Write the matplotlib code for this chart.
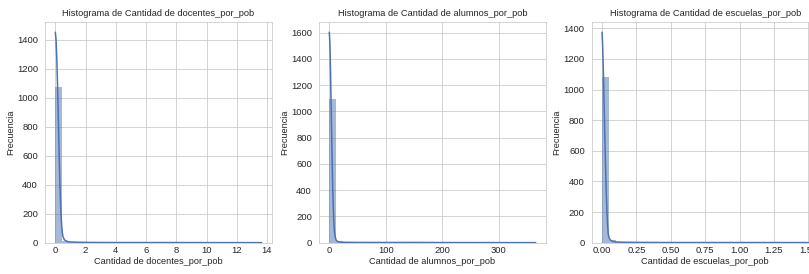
import matplotlib
matplotlib.use("Agg")
import numpy as np
import matplotlib.pyplot as plt
from matplotlib.ticker import MultipleLocator
import seaborn as sns

# histogram counts (30 bins each)
docentes_max = 13.65
docentes_counts = [1073, 14, 4, 2, 1, 1, 0, 0, 1, 0, 0, 1, 0, 0, 1,
                   0, 0, 0, 0, 1, 0, 0, 0, 0, 0, 0, 0, 0, 0, 1]
alumnos_max = 365
alumnos_counts = [1093, 12, 3, 1, 1, 0, 0, 0, 0, 0, 0, 0, 1, 0, 0,
                  0, 0, 0, 0, 0, 0, 0, 0, 0, 0, 0, 0, 0, 0, 1]
escuelas_max = 1.5
escuelas_counts = [1084, 16, 4, 2, 1, 1, 0, 0, 0, 1, 0, 0, 0, 0, 0,
                   0, 0, 0, 0, 0, 0, 0, 0, 0, 0, 0, 0, 0, 0, 1]

# kde curves (scaled to counts)
docentes_kde_x = [0, 0.05, 0.1, 0.15, 0.2, 0.25, 0.3, 0.35, 0.4, 0.45, 0.5, 0.6,
                  0.8, 1.0, 1.5, 2, 4, 6, 8, 10, 12, 13.65]
docentes_kde_y = [1453, 1400, 1260, 1070, 850, 620, 420, 260, 150, 80, 45, 20,
                  8, 5, 3, 2, 1, 1, 1, 0.5, 0.5, 0.5]
alumnos_kde_x = [0, 1, 2, 3, 4, 5, 6, 7, 8, 9, 10, 12, 15, 20, 30, 50, 100,
                 150, 200, 250, 300, 365]
alumnos_kde_y = [1604, 1520, 1330, 1090, 850, 620, 420, 270, 160, 90, 50, 20,
                 8, 4, 3, 2, 1.5, 2, 1, 1, 0.5, 0.5]
escuelas_kde_x = [0, 0.004, 0.008, 0.012, 0.016, 0.02, 0.025, 0.03, 0.035, 0.04,
                  0.045, 0.05, 0.06, 0.08, 0.1, 0.15, 0.25, 0.5, 0.75, 1.0, 1.25, 1.5]
escuelas_kde_y = [1374, 1300, 1180, 1030, 870, 700, 520, 350, 220, 120,
                  60, 35, 18, 8, 5, 3, 2, 1, 1, 1, 1, 0.5]

columnas = ["docentes_por_pob", "alumnos_por_pob", "escuelas_por_pob"]
x_steps = [2, 100, 0.25]

sns.set_theme(style="whitegrid")
plt.rcParams['font.family'] = ['Liberation Sans', 'DejaVu Sans']
plt.rcParams['grid.linewidth'] = 0.6
plt.rcParams['axes.linewidth'] = 0.6

fig = plt.figure(figsize=(8.09, 2.74), dpi=100)
lefts = [45 / 809, 319 / 809, 591.7 / 809]
color = sns.color_palette()[0]

datos = [
    (docentes_max, docentes_counts, docentes_kde_x, docentes_kde_y),
    (alumnos_max, alumnos_counts, alumnos_kde_x, alumnos_kde_y),
    (escuelas_max, escuelas_counts, escuelas_kde_x, escuelas_kde_y),
]

for left, col, step, (vmax, counts, kx, ky) in zip(lefts, columnas, x_steps, datos):
    ax = fig.add_axes([left, 31.3 / 274, 227 / 809, 221 / 274])
    edges = np.linspace(0, vmax, len(counts) + 1)
    ax.bar(edges[:-1], counts, width=np.diff(edges), align='edge',
           color=color, alpha=0.5, linewidth=0)
    ax.plot(kx, ky, color=color, lw=1.1)
    ax.xaxis.set_major_locator(MultipleLocator(step))
    ax.yaxis.set_major_locator(MultipleLocator(200))
    ax.set_title(f"Histograma de Cantidad de {col}", fontsize=6.7, pad=4)
    ax.set_xlabel(f"Cantidad de {col}", fontsize=6.6, labelpad=1.5)
    ax.set_ylabel("Frecuencia", fontsize=6.6, labelpad=1.5)
    ax.tick_params(axis='both', labelsize=6.8, length=0)
    ax.tick_params(axis='x', pad=2.5)
    ax.tick_params(axis='y', pad=5)

fig.savefig("out.png", dpi=100)
